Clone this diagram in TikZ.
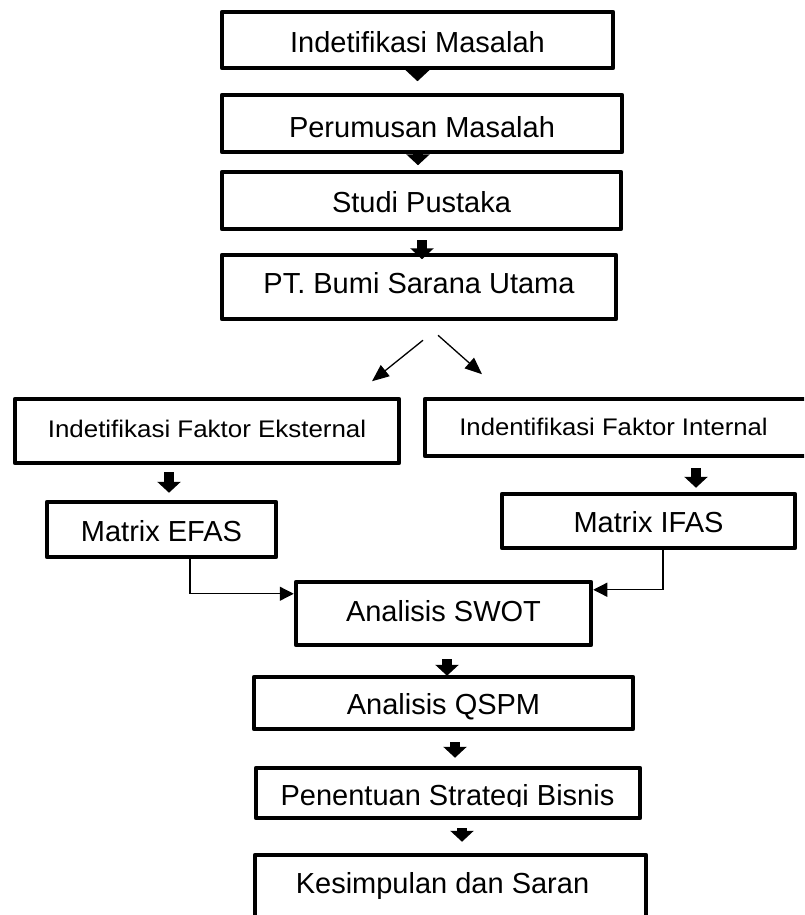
\documentclass[tikz,border=0pt]{standalone}
\usepackage{fontspec}
\setmainfont{Liberation Sans}
\usetikzlibrary{arrows.meta,calc}
\begin{document}
\begin{tikzpicture}[x=1pt,y=-1pt,
  box/.style={draw, line width=4.5pt, line join=round, inner sep=0pt,
    font=\fontsize{29}{34}\selectfont, text depth=0pt},
  lbl/.style={inner sep=0pt, font=\fontsize{29}{34}\selectfont, text height=20.8pt, text depth=0pt},
  sml/.style={font=\fontsize{24}{28}\selectfont},
  blk/.style={line width=10pt, -{Triangle[width=23pt,length=11pt]}},
  conn/.style={line width=1.3pt, -{Triangle[width=14pt,length=14pt]}},
  diag/.style={line width=1.3pt, -{Triangle[width=14pt,length=17pt]}},
]
\useasboundingbox (0,0) rectangle (804,915);
\clip (0,0) rectangle (804,915);

% boxes
\node[box, minimum width=391pt, minimum height=56pt, text height=24.8pt] (b1) at (417.5,40) {Indetifikasi Masalah};
\node[box, minimum width=400pt, minimum height=57pt, text height=27.8pt] (b2) at (422,123.5) {Perumusan Masalah};
\node[box, minimum width=399pt, minimum height=57pt, text height=23.8pt] (b3) at (421.5,200.5) {Studi Pustaka};
\node[box, minimum width=394pt, minimum height=64pt, text height=12.8pt] (b4) at (419,287) {PT. Bumi Sarana Utama};

\node[box, sml, minimum width=384pt, minimum height=64pt, text height=12.2pt] (ek) at (207,431) {\scalebox{1.08}[1]{Indetifikasi Faktor Eksternal}};
\node[box, minimum width=405pt, minimum height=57pt] (in) at (627.5,427.5) {};
\node[lbl, sml, text height=17.2pt] (intx) at (613.5,426.5) {\scalebox{1.07}[1]{Indentifikasi Faktor Internal}};

\node[box, minimum width=229pt, minimum height=55pt, text height=23.8pt] (efas) at (161.5,529.5) {Matrix EFAS};
\node[box, minimum width=293pt, minimum height=54pt, text height=22.8pt] (ifas) at (648.5,521) {Matrix IFAS};

\node[box, minimum width=295pt, minimum height=63pt, text height=15.8pt] (swot) at (443.5,613.5) {Analisis SWOT};
\node[box, minimum width=379pt, minimum height=52pt, text height=23.8pt] (qspm) at (443.5,703) {Analisis QSPM};
\node[box, minimum width=384pt, minimum height=50pt] (pen) at (448,793) {};
\begin{scope}
  \clip (256,768) rectangle (640,806);
  \node[lbl] (pentx) at (447.5,795) {Penentuan Strategi Bisnis};
\end{scope}
\node[box, minimum width=391pt, minimum height=105pt] (kes) at (450.5,907.5) {};
\node[lbl] (kestx) at (442.5,883) {Kesimpulan dan Saran};

% block arrows
\draw[blk] (b1.south) -- ++(0,11);
\draw[blk] ($(b2.south)+(-4,0)$) -- ++(0,11);
\draw[blk] ($(b3.south)+(0.5,9)$) -- ($(b3.south)+(0.5,28)$);
\draw[blk] ($(ek.south)+(-38,7)$) -- ($(efas.north)+(7.5,-7)$);
\draw[blk] ($(in.south)+(68.5,10)$) -- ($(ifas.north)+(47.5,-4)$);
\draw[blk] ($(swot.south)+(3.5,12)$) -- ($(qspm.north)+(3.5,1)$);
\draw[blk] ($(qspm.south)+(11.5,11)$) -- ($(pen.north)+(7,-8)$);
\draw[blk] ($(pen.south)+(14,8)$) -- ($(kes.north)+(11.5,-11)$);

% thin connectors
\draw[diag] ($(b4.south)+(4,19)$) -- ($(b4.south)+(-47,60)$);
\draw[diag] ($(b4.south)+(19,14)$) -- ($(b4.south)+(63,53)$);
\draw[conn] ($(efas.south)+(28.5,0)$) |- ($(swot.north west)+(0,14)$);
\draw[conn] ($(ifas.south)+(14.5,0)$) |- ($(swot.north east)+(0,10)$);
\end{tikzpicture}
\end{document}
